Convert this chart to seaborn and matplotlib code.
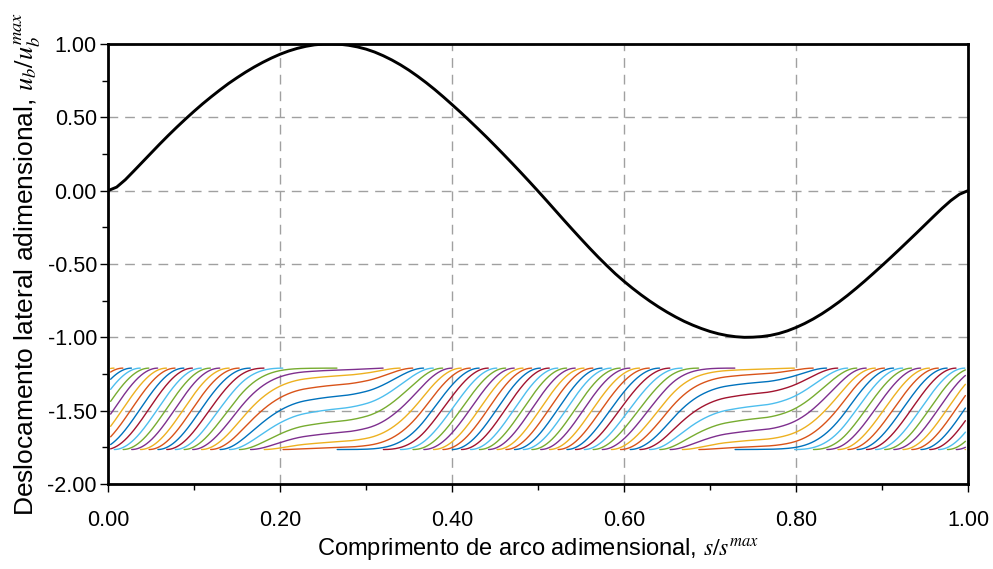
import numpy as np
import pandas as pd
import matplotlib
matplotlib.use("Agg")
import matplotlib.pyplot as plt
import seaborn as sns
from matplotlib.ticker import MultipleLocator, FormatStrFormatter

# ---- data ----
s_curve = [0.00, 0.01, 0.02, 0.03, 0.04, 0.05, 0.06, 0.07, 0.08, 0.09,
           0.10, 0.11, 0.12, 0.13, 0.14, 0.15, 0.16, 0.17, 0.18, 0.19,
           0.20, 0.21, 0.22, 0.23, 0.24, 0.25, 0.26, 0.27, 0.28, 0.29,
           0.30, 0.31, 0.32, 0.33, 0.34, 0.35, 0.36, 0.37, 0.38, 0.39,
           0.40, 0.41, 0.42, 0.43, 0.44, 0.45, 0.46, 0.47, 0.48, 0.49,
           0.50, 0.51, 0.52, 0.53, 0.54, 0.55, 0.56, 0.57, 0.58, 0.59,
           0.60, 0.61, 0.62, 0.63, 0.64, 0.65, 0.66, 0.67, 0.68, 0.69,
           0.70, 0.71, 0.72, 0.73, 0.74, 0.75, 0.76, 0.77, 0.78, 0.79,
           0.80, 0.81, 0.82, 0.83, 0.84, 0.85, 0.86, 0.87, 0.88, 0.89,
           0.90, 0.91, 0.92, 0.93, 0.94, 0.95, 0.96, 0.97, 0.98, 0.99, 1.00]
u_curve = [0.000, 0.024, 0.074, 0.134, 0.195, 0.256, 0.317, 0.376, 0.433, 0.488,
           0.541, 0.592, 0.640, 0.686, 0.730, 0.770, 0.808, 0.843, 0.875, 0.904,
           0.930, 0.952, 0.970, 0.984, 0.994, 0.999, 1.000, 0.998, 0.991, 0.980,
           0.965, 0.945, 0.920, 0.891, 0.858, 0.821, 0.780, 0.736, 0.689, 0.639,
           0.587, 0.534, 0.479, 0.423, 0.366, 0.307, 0.247, 0.186, 0.124, 0.061,
           -0.003, -0.068, -0.134, -0.200, -0.265, -0.329, -0.392, -0.453, -0.511, -0.567,
           -0.618, -0.666, -0.711, -0.753, -0.792, -0.828, -0.861, -0.891, -0.917, -0.940,
           -0.960, -0.976, -0.988, -0.996, -1.000, -0.999, -0.995, -0.987, -0.974, -0.956,
           -0.933, -0.906, -0.875, -0.840, -0.801, -0.759, -0.714, -0.666, -0.616, -0.564,
           -0.511, -0.457, -0.402, -0.346, -0.290, -0.233, -0.176, -0.120, -0.068, -0.025, 0.000]

s_rate = [0.00, 0.05, 0.10, 0.15, 0.20, 0.23, 0.27, 0.30, 0.33, 0.37,
          0.45, 0.55, 0.65, 0.69, 0.72, 0.76, 0.79, 0.82, 0.86, 1.00]
rate = [31, 31, 31, 27, 12, 4, 2, 6, 16, 28,
        31, 31, 26, 12, 4, 2, 8, 18, 29, 31]

band_top = -1.21
band_bottom = -1.765
n_lines = 20
ref_s = 0.26          # where the first line sits at ref_phase
ref_phase = 1.87

palette = ["#0072BD", "#D95319", "#EDB120", "#7E2F8E",
           "#77AC30", "#4DBEEE", "#A2142F"]

x_ticks = [0.0, 0.2, 0.4, 0.6, 0.8, 1.0]
y_ticks = [-2.0, -1.5, -1.0, -0.5, 0.0, 0.5, 1.0]

# ---- build surface lines ----
sd = np.linspace(0.003, 0.997, 3000)
rd = np.interp(sd, s_rate, rate)
theta = np.concatenate([[0.0], np.cumsum(0.5 * (rd[1:] + rd[:-1]) * np.diff(sd))])
offset = ref_phase - np.interp(ref_s, sd, theta)
yc = 0.5 * (band_top + band_bottom)
R = 0.5 * (band_top - band_bottom)

rows = []
seg_id = 0
for k in range(n_lines):
    psi = theta + offset + 2 * np.pi * k / n_lines
    vis = np.sin(psi) > 0
    y = yc - R * np.cos(psi)
    idx = np.flatnonzero(vis)
    if idx.size == 0:
        continue
    breaks = np.flatnonzero(np.diff(idx) > 1)
    starts = np.concatenate([[0], breaks + 1])
    ends = np.concatenate([breaks + 1, [idx.size]])
    for a, b in zip(starts, ends):
        ii = idx[a:b]
        rows.append(pd.DataFrame({"s": sd[ii], "y": y[ii], "k": k % 7, "seg": seg_id}))
        seg_id += 1
df_lines = pd.concat(rows, ignore_index=True)
df_curve = pd.DataFrame({"s": s_curve, "u": u_curve})

# ---- plotting ----
sns.set_theme(style="white")
plt.rcParams["font.family"] = ["Liberation Sans", "DejaVu Sans"]
plt.rcParams["mathtext.fontset"] = "stix"
plt.rcParams["axes.unicode_minus"] = False

fig = plt.figure(figsize=(9.93, 5.69), dpi=100)
ax = fig.add_axes([0.1088, 0.1494, 0.8660, 0.7733])

sns.lineplot(data=df_lines, x="s", y="y", hue="k", units="seg", estimator=None,
             palette={i: palette[i] for i in range(7)}, legend=False, sort=False,
             linewidth=1.0, ax=ax)
sns.lineplot(data=df_curve, x="s", y="u", color="black", linewidth=2.1,
             estimator=None, sort=False, ax=ax, zorder=5)

ax.set_xlim(0, 1)
ax.set_ylim(-2, 1)
ax.set_xticks(x_ticks)
ax.set_yticks(y_ticks)
ax.xaxis.set_minor_locator(MultipleLocator(0.1))
ax.yaxis.set_minor_locator(MultipleLocator(0.25))
ax.xaxis.set_major_formatter(FormatStrFormatter("%.2f"))
ax.yaxis.set_major_formatter(FormatStrFormatter("%.2f"))
ax.tick_params(axis="both", which="major", direction="out", length=6, width=1,
               color="black", labelsize=15.5, labelcolor="black",
               bottom=True, left=True)
ax.tick_params(axis="x", which="major", pad=13)
ax.tick_params(axis="y", which="major", pad=2)
ax.tick_params(axis="both", which="minor", direction="out", length=4, width=1,
               color="black", bottom=True, left=True)
ax.grid(True, which="major", color="#a0a0a0", linestyle=(0, (7, 5)), linewidth=1.0)
for sp in ax.spines.values():
    sp.set_color("black")
    sp.set_linewidth(2.0)
    sp.set_zorder(6)

ax.set_xlabel("Comprimento de arco adimensional, $s/s^{max}$", fontsize=17,
              color="black", labelpad=3)
ax.set_ylabel("Deslocamento lateral adimensional, $u_b/u_b^{max}$", fontsize=19,
              color="black", labelpad=3)

fig.savefig("out.png", dpi=100)
